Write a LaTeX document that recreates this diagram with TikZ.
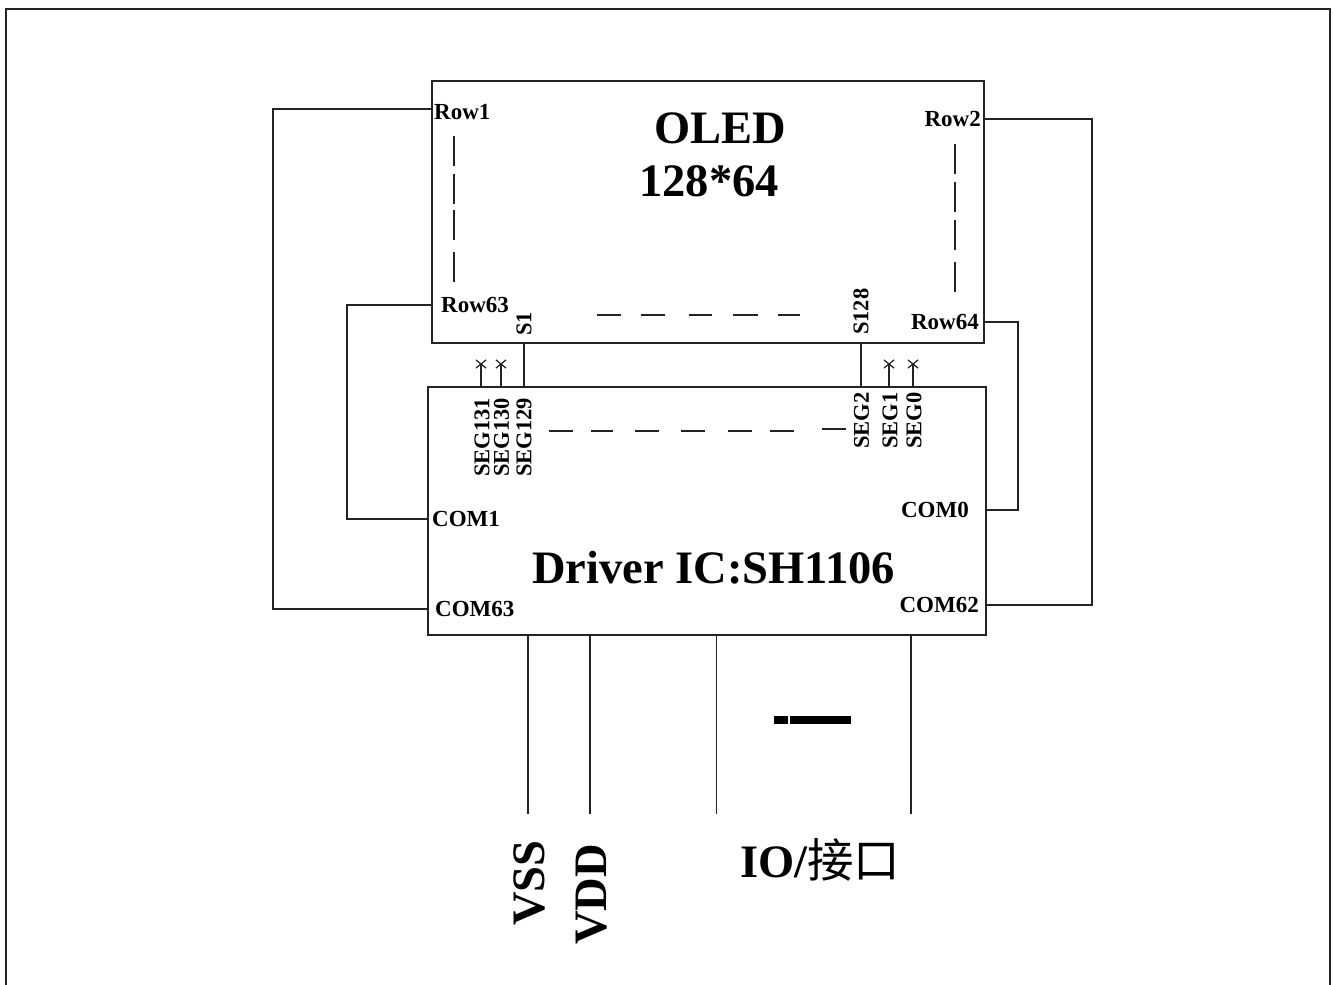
\documentclass[tikz,border=0pt]{standalone}
\usepackage{fontspec}
\setmainfont{Liberation Serif}
\newfontfamily\cjkfont{Noto Sans CJK SC}
\usepackage{tikz}
\usetikzlibrary{shapes.misc}
\definecolor{linegray}{RGB}{35,35,35}

\begin{document}
\begin{tikzpicture}[
    x=1pt, y=-1pt,
    chip/.style={draw=linegray, line width=1.9pt, minimum width=#1, inner sep=0pt},
    wire/.style={draw=linegray, line width=1.8pt},
    gap/.style={draw=linegray, line width=1.6pt},
    pin/.style={font=\fontsize{23}{25}\selectfont\bfseries, inner sep=0pt},
    seg/.style={font=\fontsize{22.5}{25}\selectfont\bfseries, inner sep=0pt, rotate=90},
    title/.style={font=\fontsize{46.5}{50}\selectfont\bfseries, inner sep=0pt},
    nc/.style={cross out, draw=linegray, line width=1.2pt, minimum width=9pt, minimum height=7pt, inner sep=0pt}
]
    \useasboundingbox (0,0) rectangle (1333,985);

    % frame is open at the bottom
    \draw[wire, line width=2.2pt] (6,985) -- (6,9) -- (1330,9) -- (1330,985);

    \node[chip=552pt, minimum height=262pt] (oled) at (708,212) {};
    \node[chip=558pt, minimum height=248pt] (driver) at (707,511) {};

    \node[title] (oledname) at (720.5,128) {OLED};
    \node[title] (oledsize) at (709,181) {128*64};
    \node[title] (drivername) at (713.5,568) {Driver IC:SH1106};

    \node[pin, anchor=west] (row1) at (434,112) {Row1};
    \node[pin, anchor=east] (row2) at (981,119) {Row2};
    \node[pin, anchor=west] (row63) at (441,305) {Row63};
    \node[pin, anchor=east] (row64) at (979,322) {Row64};
    \node[pin, anchor=west] (com1) at (432,519) {COM1};
    \node[pin, anchor=east] (com0) at (969,510) {COM0};
    \node[pin, anchor=west] (com63) at (435,609) {COM63};
    \node[pin, anchor=east] (com62) at (979,605) {COM62};

    % rotated labels
    \node[seg, anchor=west] (s1) at (524,336) {S1};
    \node[seg, anchor=west] (s128) at (861,335) {S128};
    \node[seg, anchor=west] (seg131) at (482,477) {SEG131};
    \node[seg, anchor=west] (seg130) at (501.5,477) {SEG130};
    \node[seg, anchor=west] (seg129) at (524,477) {SEG129};
    \node[seg, anchor=west] (seg2) at (861.5,449) {SEG2};
    \node[seg, anchor=west] (seg1) at (890,449) {SEG1};
    \node[seg, anchor=west] (seg0) at (914,449) {SEG0};

    % not connected
    \node[nc] (nc131) at (481,364) {};
    \node[nc] (nc130) at (501,364) {};
    \node[nc] (nc1) at (889,364) {};
    \node[nc] (nc0) at (913,364) {};
    \draw[wire] (driver.north -| nc131) -- (nc131.center);
    \draw[wire] (driver.north -| nc130) -- (nc130.center);
    \draw[wire] (driver.north -| nc1) -- (nc1.center);
    \draw[wire] (driver.north -| nc0) -- (nc0.center);

    \draw[wire] (oled.south -| s1) -- (driver.north -| s1);
    \draw[wire] (oled.south -| s128) -- (driver.north -| s128);

    % outer loops
    \coordinate (row1end) at (432,109);
    \draw[wire] (row1end) -- (273,109) |- (com63 -| driver.west);
    \draw[wire] (row2 -| oled.east) -- (1092,119) |- (com62 -| driver.east);
    \draw[wire] (row63 -| oled.west) -- (347,305) |- (com1 -| driver.west);
    \draw[wire] (row64 -| oled.east) -- (1018,322) |- (com0 -| driver.east);

    % dashed runs
    \coordinate (rowgapA) at (454,136);
    \coordinate (rowgapB) at (454,282);
    \coordinate (rowgapC) at (955,144);
    \coordinate (rowgapD) at (955,292);
    \draw[gap, dash pattern=on 30pt off 8pt on 30pt off 6pt on 30pt off 12pt on 30pt off 9pt] (rowgapA) -- (rowgapB);
    \draw[gap, dash pattern=on 30pt off 8pt on 30pt off 8pt on 30pt off 12pt on 30pt off 9pt] (rowgapC) -- (rowgapD);
    \draw[gap, dash pattern=on 24pt off 20pt on 24pt off 24pt on 23pt off 21pt on 25pt off 20pt on 23pt off 9pt] (597,315) -- (800,315);
    \draw[gap, dash pattern=on 24pt off 18pt on 22pt off 22pt on 24pt off 22pt on 24pt off 23pt on 24pt off 18pt on 24pt off 9pt] (549,431) -- (794,431);
    \draw[gap] (822,429) -- (846,429);

    % bottom pins
    \coordinate (vssend) at (528,814);
    \coordinate (vddend) at (590,814);
    \coordinate (ioa) at (716.5,814);
    \coordinate (iob) at (911,814);
    \draw[wire] (driver.south -| vssend) -- (vssend);
    \draw[wire] (driver.south -| vddend) -- (vddend);
    \draw[wire] (driver.south -| ioa) -- (ioa);
    \draw[wire] (driver.south -| iob) -- (iob);

    \coordinate (busa) at (774,720);
    \coordinate (busb) at (851,720);
    \draw[line width=8pt, dash pattern=on 14pt off 2pt on 61pt off 10pt] (busa) -- (busb);

    \node[title, rotate=90, anchor=west] (vss) at (529,926) {VSS};
    \node[title, rotate=90, anchor=west] (vdd) at (592,945) {VDD};
    \node[title, anchor=west] (io) at (740,860) {IO/{\cjkfont\mdseries 接口}};
\end{tikzpicture}
\end{document}
